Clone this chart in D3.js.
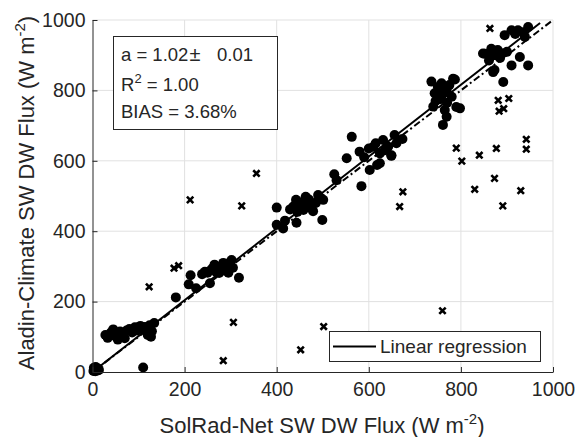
<!DOCTYPE html>
<html>
<head>
<meta charset="utf-8">
<script src="https://cdn.jsdelivr.net/npm/d3@7"></script>
<style>
  body { margin: 0; background: #fff; }
  text { font-family: "Liberation Sans", Arial, sans-serif; fill: #262626; }
</style>
</head>
<body>
<div id="chart"></div>
<script>
// ticks shared by both axes
var tickValues = [0, 200, 400, 600, 800, 1000];

// collocated points kept for the fit (obs, model)
var fitPoints = [
  [2,3],[4,6],[6,2],[8,8],[10,4],[12,10],[3,12],[14,6],[7,14],
  [28,105],[33,97],[40,112],[45,121],[50,101],[55,92],[60,115],[64,108],[70,96],[74,118],
  [80,122],[86,112],[92,127],[97,118],[104,131],[109,122],[114,128],[120,105],[124,133],
  [129,116],[134,139],[127,100],[110,13],
  [181,212],[209,249],[213,275],[225,238],[238,278],[244,285],[250,282],[255,252],[258,291],
  [262,296],[265,305],[268,285],[271,293],[275,281],[278,299],[281,290],[285,301],[288,288],
  [292,306],[295,282],[298,311],[302,318],[305,296],[318,268],[284,310],[290,296],
  [400,418],[414,408],[418,430],[400,467],[443,424],[429,462],[442,489],[450,470],[463,498],
  [465,474],[479,457],[490,503],[501,489],[499,432],[436,470],[455,482],[470,490],[485,480],
  [475,465],[458,460],[445,455],[495,495],
  [525,562],[530,545],[552,607],[563,668],[584,528],[580,626],[602,574],[618,588],[624,621],
  [649,616],[624,593],[631,659],[642,640],[656,673],[673,662],[649,614],[610,640],[635,630],
  [660,650],[600,635],[590,610],[615,650],
  [736,825],[758,820],[787,831],[743,792],[769,801],[780,782],[798,749],[740,754],[765,744],
  [769,725],[761,702],[750,810],[775,815],[760,790],[755,775],[783,833],[790,753],[745,770],[770,765],
  [852,904],[866,918],[877,900],[861,885],[895,957],[910,971],[924,971],[946,980],[939,952],
  [910,871],[928,895],[946,871],[870,852],[892,824],[848,905],[873,858],[880,915],[890,905],
  [900,910],[870,900],[885,892],[935,965],[918,960]
];

// rejected points (obs, model)
var outliers = [
  [123,242],[177,295],[187,302],[212,489],[324,472],[356,564],[306,141],[284,32],[452,63],
  [502,129],[760,174],[790,636],[802,599],[840,616],[674,512],[830,519],[667,470],[877,635],
  [873,550],[891,472],[930,515],[942,661],[942,633],[863,976],[881,772],[904,777],[883,741],[893,748]
];

// regression and 1:1 reference
var slope = 1.02, intercept = 0, fitRange = [0, 972];
var oneToOne = [0, 1000];

var W = 575, H = 437;
var margin = { top: 20, right: 22, bottom: 65, left: 92.5 };
var width = W - margin.left - margin.right;
var height = H - margin.top - margin.bottom;

var svg = d3.select("#chart").append("svg")
    .attr("width", W)
    .attr("height", H);

var g = svg.append("g")
    .attr("transform", `translate(${margin.left},${margin.top})`);

var x = d3.scaleLinear().domain([0, 1000]).range([0, width]);
var y = d3.scaleLinear().domain([0, 1000]).range([height, 0]);

// grid
g.append("g").selectAll("line")
    .data(tickValues.slice(1))
    .enter().append("line")
    .attr("x1", d => x(d)).attr("x2", d => x(d))
    .attr("y1", 0).attr("y2", height)
    .attr("stroke", "#e1e1e1").attr("stroke-width", 1);
g.append("g").selectAll("line")
    .data(tickValues.slice(1))
    .enter().append("line")
    .attr("x1", 0).attr("x2", width)
    .attr("y1", d => y(d)).attr("y2", d => y(d))
    .attr("stroke", "#e1e1e1").attr("stroke-width", 1);

// regression lines
var line = d3.line().x(d => x(d[0])).y(d => y(d[1]));
g.append("path")
    .datum(oneToOne.map(v => [v, v]))
    .attr("d", line)
    .attr("fill", "none")
    .attr("stroke", "#000")
    .attr("stroke-width", 2)
    .attr("stroke-dasharray", "7,3,2,3");
g.append("path")
    .datum(fitRange.map(v => [v, slope * v + intercept]))
    .attr("d", line)
    .attr("fill", "none")
    .attr("stroke", "#000")
    .attr("stroke-width", 2);

// points
g.append("g").selectAll("circle")
    .data(fitPoints)
    .enter().append("circle")
    .attr("cx", d => x(d[0]))
    .attr("cy", d => y(d[1]))
    .attr("r", 5)
    .attr("fill", "#000");

var s = 3.2;
g.append("g").selectAll("path")
    .data(outliers)
    .enter().append("path")
    .attr("transform", d => `translate(${x(d[0])},${y(d[1])})`)
    .attr("d", `M${-s},${-s}L${s},${s}M${-s},${s}L${s},${-s}`)
    .attr("stroke", "#000")
    .attr("stroke-width", 2.6);

// axes (box off, ticks inward)
var fmt = d3.format("d");
var xAxis = g.append("g")
    .attr("transform", `translate(0,${height})`)
    .call(d3.axisBottom(x).tickValues(tickValues).tickFormat(fmt).tickSize(-5).tickPadding(10).tickSizeOuter(0));
var yAxis = g.append("g")
    .call(d3.axisLeft(y).tickValues(tickValues).tickFormat(fmt).tickSize(-5).tickPadding(7).tickSizeOuter(0));
[xAxis, yAxis].forEach(a => {
    a.select(".domain").attr("stroke", "#262626");
    a.selectAll(".tick line").attr("stroke", "#262626");
    a.selectAll(".tick text").style("font-size", "19.5px").style("font-family", "Liberation Sans, Arial, sans-serif").attr("fill", "#262626");
});

// axis labels
var xl = svg.append("text")
    .attr("x", 322)
    .attr("y", 432.5)
    .attr("text-anchor", "middle")
    .style("font-size", "22px");
xl.append("tspan").text("SolRad-Net SW DW Flux (W m");
xl.append("tspan").attr("dy", -9).style("font-size", "15px").text("-2");
xl.append("tspan").attr("dy", 9).text(")");

var yl = svg.append("text")
    .attr("transform", "translate(34,193) rotate(-90)")
    .attr("text-anchor", "middle")
    .style("font-size", "22px");
yl.append("tspan").text("Aladin-Climate SW DW Flux (W m");
yl.append("tspan").attr("dy", -9).style("font-size", "15px").text("-2");
yl.append("tspan").attr("dy", 9).text(")");

// stats box
svg.append("rect")
    .attr("x", 113.5).attr("y", 36.5)
    .attr("width", 164).attr("height", 93)
    .attr("fill", "#fff").attr("stroke", "#262626").attr("stroke-width", 1);
var t1 = svg.append("text").attr("x", 121).attr("y", 61).style("font-size", "18.5px");
t1.append("tspan").text("a = 1.02");
t1.append("tspan").attr("dx", 1).style("font-size", "20px").text("\u00b1");
t1.append("tspan").attr("x", 217).text("0.01");
var t2 = svg.append("text").attr("x", 121).attr("y", 91).style("font-size", "18.5px");
t2.append("tspan").text("R");
t2.append("tspan").attr("dy", -8).style("font-size", "13px").text("2");
t2.append("tspan").attr("dy", 8).text(" = 1.00");
svg.append("text").attr("x", 121).attr("y", 118).style("font-size", "18.5px").text("BIAS = 3.68%");

// legend
svg.append("rect")
    .attr("x", 329.5).attr("y", 331.5)
    .attr("width", 211).attr("height", 30)
    .attr("fill", "#fff").attr("stroke", "#262626").attr("stroke-width", 1);
svg.append("line")
    .attr("x1", 333).attr("x2", 376)
    .attr("y1", 346.5).attr("y2", 346.5)
    .attr("stroke", "#000").attr("stroke-width", 2);
svg.append("text")
    .attr("x", 380).attr("y", 353)
    .style("font-size", "19px")
    .text("Linear regression");
</script>
</body>
</html>
